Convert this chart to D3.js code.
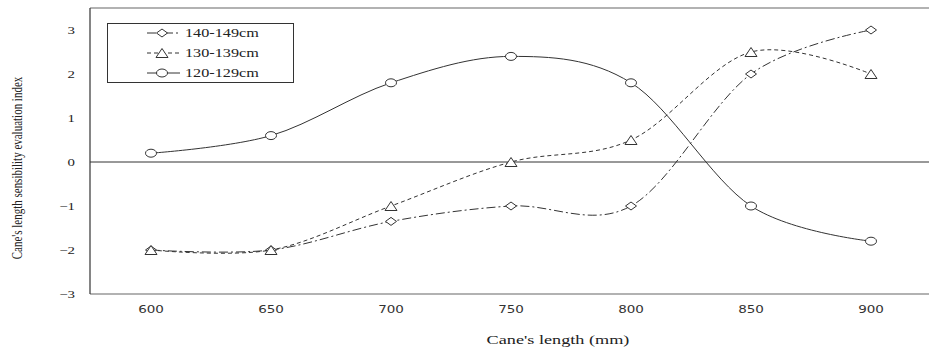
<!DOCTYPE html>
<html>
<head>
<meta charset="utf-8">
<script src="https://cdn.jsdelivr.net/npm/d3@7"></script>
<style>
  body { margin: 0; background: #fff; }
  svg { display: block; }
</style>
</head>
<body>
<div id="chart"></div>
<script>
// cane lengths (mm)
const lengths = [600, 650, 700, 750, 800, 850, 900];
// sensibility evaluation index per height group
const s140 = [-2, -2, -1.35, -1, -1, 2, 3];
const s130 = [-2, -2, -1, 0, 0.5, 2.5, 2];
const s120 = [0.2, 0.6, 1.8, 2.4, 1.8, -1, -1.8];
const seriesNames = ["140-149cm", "130-139cm", "120-129cm"];
const yTicks = [-3, -2, -1, 0, 1, 2, 3];

const W = 929, H = 350;
const stretch = 1.35; // the original picture is widened, text too
const ink = "#333";
const serif = "Liberation Serif, Tinos, Times New Roman, DejaVu Serif, serif";
const sans = "DejaVu Sans, Verdana, sans-serif";

const svg = d3.select("#chart").append("svg")
    .attr("width", W).attr("height", H);

const x = d3.scaleLinear().domain([575, 925]).range([91, 931]);
const y = d3.scaleLinear().domain([-3, 3.5]).range([294, 8]);

function txt(px, py, str, size, family, anchor) {
    return svg.append("text")
        .attr("transform", `translate(${px},${py}) scale(${stretch},1)`)
        .attr("text-anchor", anchor || "start")
        .attr("font-family", family)
        .attr("font-size", size)
        .attr("fill", "#222")
        .text(str);
}

// frame
svg.append("line").attr("x1", 90).attr("x2", W).attr("y1", y(3.5)).attr("y2", y(3.5))
    .attr("stroke", "#999").attr("stroke-width", 1.5);
svg.append("line").attr("x1", 90).attr("x2", W).attr("y1", y(-3)).attr("y2", y(-3))
    .attr("stroke", "#999").attr("stroke-width", 1.5);
svg.append("line").attr("x1", 90).attr("x2", 90).attr("y1", y(3.5)).attr("y2", y(-3))
    .attr("stroke", ink).attr("stroke-width", 1.2);
// zero line
svg.append("line").attr("x1", 90).attr("x2", W).attr("y1", y(0)).attr("y2", y(0))
    .attr("stroke", ink).attr("stroke-width", 1);

// tick labels
yTicks.forEach(t => txt(75, y(t) + 4, d3.format("d")(t), 11, serif, "end"));
lengths.forEach(v => txt(x(v), 313, v, 10, sans, "middle").attr("fill", "#333"));

// axis titles
txt(558, 344, "Cane's length (mm)", 13.5, serif, "middle");
svg.append("text")
    .attr("transform", `translate(22,168) scale(${stretch},1) rotate(-90)`)
    .attr("text-anchor", "middle")
    .attr("font-family", serif)
    .attr("font-size", 11)
    .attr("fill", "#222")
    .text("Cane's length sensibility evaluation index");

// markers
function marker(g, kind, cx, cy) {
    if (kind === "diamond") {
        g.append("path")
            .attr("d", `M${cx - 5.5},${cy} L${cx},${cy - 4} L${cx + 5.5},${cy} L${cx},${cy + 4} Z`)
            .attr("fill", "#fff").attr("stroke", ink).attr("stroke-width", 1);
    } else if (kind === "triangle") {
        g.append("path")
            .attr("d", `M${cx - 6},${cy + 4.5} L${cx},${cy - 4.5} L${cx + 6},${cy + 4.5} Z`)
            .attr("fill", "#fff").attr("stroke", ink).attr("stroke-width", 1);
    } else {
        g.append("ellipse").attr("cx", cx).attr("cy", cy).attr("rx", 5.5).attr("ry", 4)
            .attr("fill", "#fff").attr("stroke", ink).attr("stroke-width", 1);
    }
}

const series = [
    { name: seriesNames[0], values: s140, dash: "9,3,2,3", kind: "diamond" },
    { name: seriesNames[1], values: s130, dash: "4,3", kind: "triangle" },
    { name: seriesNames[2], values: s120, dash: null, kind: "circle" }
];

const line = d3.line()
    .x(d => x(d[0]))
    .y(d => y(d[1]))
    .curve(d3.curveCatmullRom.alpha(0));

series.forEach(s => {
    const g = svg.append("g");
    const pts = lengths.map((l, i) => [l, s.values[i]]);
    g.append("path")
        .attr("d", line(pts))
        .attr("fill", "none")
        .attr("stroke", ink)
        .attr("stroke-width", 1)
        .attr("stroke-dasharray", s.dash);
    pts.forEach(p => marker(g, s.kind, x(p[0]), y(p[1])));
});

// legend
const leg = svg.append("g");
leg.append("rect").attr("x", 107.5).attr("y", 23.5).attr("width", 186).attr("height", 59)
    .attr("fill", "#fff").attr("stroke", ink).attr("stroke-width", 1);
series.forEach((s, i) => {
    const ly = 33 + i * 20;
    leg.append("line").attr("x1", 147).attr("x2", 180).attr("y1", ly).attr("y2", ly)
        .attr("stroke", ink).attr("stroke-width", 1).attr("stroke-dasharray", s.dash);
    marker(leg, s.kind, 162, ly);
    txt(185, ly + 4, s.name, 12, serif, "start");
});
</script>
</body>
</html>
